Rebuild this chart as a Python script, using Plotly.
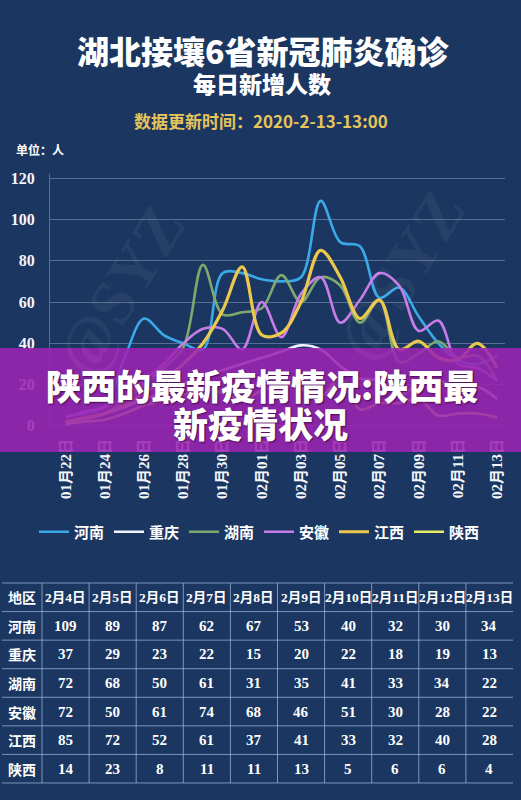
import plotly.graph_objects as go

# ---------------- data ----------------
dates = ["01月22日", "01月23日", "01月24日", "01月25日", "01月26日", "01月27日",
         "01月28日", "01月29日", "01月30日", "01月31日", "02月01日", "02月02日",
         "02月03日", "02月04日", "02月05日", "02月06日", "02月07日", "02月08日",
         "02月09日", "02月10日", "02月11日", "02月12日", "02月13日"]
tick_dates = dates[::2]

provinces = ["河南", "重庆", "湖南", "安徽", "江西", "陕西"]

henan = [5, 6, 10, 33, 52, 44, 40, 37, 74, 74, 71, 70, 72, 109, 89, 87, 62, 67, 53, 40, 32, 30, 34]
chongqing = [1, 3, 6, 9, 13, 16, 20, 24, 27, 30, 33, 36, 39, 37, 29, 23, 22, 15, 20, 22, 18, 19, 13]
hunan = [1, 3, 6, 12, 20, 28, 38, 78, 54, 55, 57, 73, 60, 72, 68, 50, 61, 31, 35, 41, 33, 34, 22]
anhui = [4, 7, 9, 14, 22, 30, 40, 47, 47, 37, 60, 43, 64, 72, 50, 61, 74, 68, 46, 51, 30, 28, 22]
jiangxi = [2, 4, 6, 10, 16, 22, 30, 40, 56, 77, 44, 45, 60, 85, 72, 52, 61, 37, 41, 33, 32, 40, 28]
shaanxi = [1, 2, 3, 6, 10, 12, 15, 18, 16, 13, 17, 20, 18, 14, 23, 8, 11, 11, 13, 5, 6, 6, 4]

series = [henan, chongqing, hunan, anhui, jiangxi, shaanxi]
colors = ["#3aa9e8", "#eef3ff", "#7fa86c", "#c77de9", "#ecc84c", "#e6ea66"]
widths = [2.6, 2.6, 2.6, 2.6, 3.2, 2.6]

table_header = "地区"
table_dates = ["2月4日", "2月5日", "2月6日", "2月7日", "2月8日",
               "2月9日", "2月10日", "2月11日", "2月12日", "2月13日"]
n_table = len(table_dates)

BG = "#1b3660"
W, H = 521, 800


def px_x(p):
    return p / W


def px_y(p):
    return 1 - p / H


fig = go.Figure()

for name, vals, col, lw in zip(provinces, series, colors, widths):
    fig.add_trace(go.Scatter(
        x=dates, y=vals, name=name, mode="lines",
        line=dict(color=col, width=lw, shape="spline", smoothing=1.0),
        hoverinfo="x+y+name",
    ))

# ---------------- table (drawn with shapes + annotations) ----------------
tbl_left, tbl_right = 2, 513
first_w, col_w = 40, 47.1
tbl_top, row_h = 583, 28.57
col_edges = [tbl_left, tbl_left + first_w] + [tbl_left + first_w + col_w * (k + 1) for k in range(n_table)]
n_rows = len(provinces) + 1
row_edges = [tbl_top + row_h * k for k in range(n_rows + 1)]
line_col = "rgba(165,190,228,0.7)"

shapes = []
for ry in row_edges:
    shapes.append(dict(type="line", xref="paper", yref="paper",
                       x0=px_x(tbl_left), x1=px_x(tbl_right), y0=px_y(ry), y1=px_y(ry),
                       line=dict(color=line_col, width=1), layer="below"))
for cx in col_edges[1:-1]:
    shapes.append(dict(type="line", xref="paper", yref="paper",
                       x0=px_x(cx), x1=px_x(cx), y0=px_y(row_edges[0]), y1=px_y(row_edges[-1]),
                       line=dict(color=line_col, width=1), layer="below"))

ann = []


def cell(ci, ri, text, family, size):
    cx = (col_edges[ci] + col_edges[ci + 1]) / 2
    cy = (row_edges[ri] + row_edges[ri + 1]) / 2
    ann.append(dict(x=px_x(cx), y=px_y(cy), text=text,
                    font=dict(size=size, color="white", family=family, weight="bold")))


cell(0, 0, table_header, "Noto Sans CJK SC", 14)
for j, d in enumerate(table_dates):
    cell(j + 1, 0, d, "Liberation Serif, Noto Sans CJK SC", 13.5)
for i, (p, s) in enumerate(zip(provinces, series)):
    cell(0, i + 1, p, "Noto Sans CJK SC", 14)
    for j in range(n_table):
        cell(j + 1, i + 1, str(s[len(s) - n_table + j]), "Liberation Serif", 15)

# banner
shapes.append(dict(type="rect", xref="paper", yref="paper", x0=0, x1=1,
                   y0=px_y(452), y1=px_y(348),
                   fillcolor="rgba(156,36,178,0.88)", line=dict(width=0), layer="above"))

# ---------------- layout ----------------
fig.update_layout(
    width=W, height=H,
    margin=dict(l=0, r=0, t=0, b=0),
    paper_bgcolor=BG, plot_bgcolor=BG,
    showlegend=True,
    legend=dict(
        orientation="h", x=px_x(34), y=px_y(532), xanchor="left", yanchor="middle",
        font=dict(color="white", size=15, family="Noto Sans CJK SC", weight="bold"),
        bgcolor="rgba(0,0,0,0)", itemwidth=30,
        entrywidth=30, entrywidthmode="pixels", traceorder="normal",
    ),
    xaxis=dict(
        domain=[px_x(50), px_x(505)],
        type="category", categoryorder="array", categoryarray=dates,
        range=[-0.8, 22.4],
        tickmode="array", tickvals=tick_dates, ticktext=tick_dates,
        tickangle=-90, showgrid=False, zeroline=False, showline=False,
        ticks="", automargin=False, ticklabelstandoff=5,
        tickfont=dict(color="#f2f5fb", size=15, family="Liberation Serif, Noto Sans CJK SC", weight="bold"),
    ),
    yaxis=dict(
        domain=[px_y(430), px_y(174)],
        range=[-2, 122],
        tickmode="array", tickvals=[0, 20, 40, 60, 80, 100, 120],
        showgrid=True, gridcolor="rgba(200,215,240,0.35)", gridwidth=1,
        zeroline=False, showline=True, linecolor="rgba(200,215,240,0.35)",
        ticks="", automargin=False, ticklabelstandoff=11,
        tickfont=dict(color="#f2f5fb", size=16, family="Liberation Serif", weight="bold"),
    ),
    shapes=shapes,
)

# watermarks
for (wx, wy) in [(120, 290), (400, 275)]:
    ann.append(dict(x=px_x(wx), y=px_y(wy), text="@SYZ", textangle=-58,
                    font=dict(size=64, color="rgba(255,255,255,0.05)", family="Liberation Serif", weight="bold")))
ann += [
    dict(x=px_x(263), y=px_y(50), text="湖北接壤6省新冠肺炎确诊",
         font=dict(size=32, color="white", family="Noto Sans CJK SC", weight=900)),
    dict(x=px_x(262), y=px_y(83), text="每日新增人数",
         font=dict(size=23, color="white", family="Noto Sans CJK SC", weight=900)),
    dict(x=px_x(261), y=px_y(120), text="数据更新时间：2020-2-13-13:00",
         font=dict(size=17, color="#e6c45c", family="Noto Sans CJK SC", weight="bold")),
    dict(x=px_x(14), y=px_y(149), text="单位：人", xanchor="left",
         font=dict(size=12, color="white", family="Noto Sans CJK SC", weight="bold")),
    dict(x=px_x(262), y=px_y(385), text="陕西的最新疫情情况:陕西最",
         font=dict(size=35, color="white", family="Noto Sans CJK SC", weight=900,
                   shadow="1px 1px 2px rgba(40,0,40,0.7)")),
    dict(x=px_x(260), y=px_y(422), text="新疫情状况",
         font=dict(size=35, color="white", family="Noto Sans CJK SC", weight=900,
                   shadow="1px 1px 2px rgba(40,0,40,0.7)")),
]
for a in ann:
    a.setdefault("xref", "paper")
    a.setdefault("yref", "paper")
    a.setdefault("showarrow", False)
    a.setdefault("xanchor", "center")
    a.setdefault("yanchor", "middle")
fig.update_layout(annotations=ann)

fig.write_html("out.html")
